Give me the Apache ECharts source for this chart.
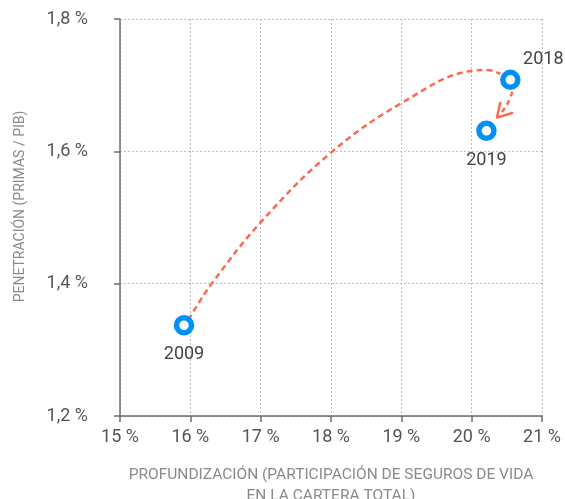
<!DOCTYPE html>
<html>
<head>
<meta charset="utf-8">
<script src="https://cdn.jsdelivr.net/npm/echarts@6/dist/echarts.min.js"></script>
<style>
  html, body { margin: 0; padding: 0; background: #fff; }
  #chart { width: 565px; height: 499px; }
</style>
</head>
<body>
<div id="chart"></div>
<script>
// Life-insurance depth (x, %) vs. penetration (y, premiums / GDP, %)
const years = ['2009', '2018', '2019'];
const depth = [15.91, 20.55, 20.21];
const penetration = [1.337, 1.708, 1.631];

// Dashed trend path from 2009 up to 2018 (x, y in axis units)
const pathX = [15.97, 16.02, 16.31, 17.02, 18.00, 19.02, 20.02, 20.22, 20.41];
const pathY = [1.345, 1.354, 1.401, 1.495, 1.598, 1.674, 1.722, 1.723, 1.717];

// Short dashed return from 2018 to 2019, with an open arrowhead
const backX = [20.58, 20.50, 20.38];
const backY = [1.690, 1.670, 1.653];
const headX = [20.405, 20.36, 20.575];
const headY = [1.673, 1.651, 1.658];

const xTicks = { min: 15, max: 21, step: 1 };
const yTicks = { min: 1.2, max: 1.8, step: 0.2 };

const accent = '#fb6a4c';
const ring = '#0091f6';
const fontFamily = 'Roboto, "DejaVu Sans", sans-serif';

const zip = (xs, ys) => xs.map((x, i) => [x, ys[i]]);
const fmt = (v, digits) => v.toFixed(digits).replace('.', ',') + ' %';

const chart = echarts.init(document.getElementById('chart'), null, { renderer: 'canvas' });

chart.setOption({
  animation: false,
  backgroundColor: '#fff',
  grid: { left: 120, right: 23, top: 19, bottom: 83, containLabel: false, outerBoundsMode: 'none' },
  xAxis: {
    type: 'value',
    min: xTicks.min, max: xTicks.max, interval: xTicks.step,
    name: 'PROFUNDIZACIÓN (PARTICIPACIÓN DE SEGUROS DE VIDA\nEN LA CARTERA TOTAL)',
    nameLocation: 'middle',
    nameGap: 49,
    nameTextStyle: { color: '#8a8a8a', fontSize: 15.5, fontFamily, lineHeight: 21, verticalAlign: 'top' },
    axisLine: { show: true, onZero: false, lineStyle: { color: '#6e6e6e', width: 1.5 } },
    axisTick: { show: true, length: 6, lineStyle: { color: '#6e6e6e', width: 1.5 } },
    axisLabel: { color: '#555', fontSize: 18, fontFamily, margin: 12,
      formatter: v => fmt(v, 0) },
    splitLine: { show: true, lineStyle: { color: '#bdbdbd', type: [2, 2], width: 1 } }
  },
  yAxis: {
    type: 'value',
    min: yTicks.min, max: yTicks.max, interval: yTicks.step,
    name: 'PENETRACIÓN (PRIMAS / PIB)',
    nameLocation: 'middle',
    nameGap: 93,
    nameRotate: 90,
    nameTextStyle: { color: '#8a8a8a', fontSize: 14, fontFamily, padding: [0, 0, 0, 22] },
    axisLine: { show: true, onZero: false, lineStyle: { color: '#6e6e6e', width: 1.5 } },
    axisTick: { show: true, length: 6, lineStyle: { color: '#6e6e6e', width: 1.5 } },
    axisLabel: { color: '#555', fontSize: 18, fontFamily, margin: 32,
      formatter: v => fmt(v, 1) },
    splitLine: { show: true, lineStyle: { color: '#bdbdbd', type: [2, 2], width: 1 } }
  },
  series: [
    {
      type: 'line',
      data: zip(pathX, pathY),
      smooth: 0.4,
      showSymbol: false,
      silent: true,
      z: 2,
      lineStyle: { color: accent, width: 2.5, type: [6, 4] }
    },
    {
      type: 'line',
      data: zip(backX, backY),
      smooth: 0.3,
      showSymbol: false,
      silent: true,
      z: 2,
      lineStyle: { color: accent, width: 2.5, type: [5, 4] }
    },
    {
      type: 'line',
      data: zip(headX, headY),
      showSymbol: false,
      silent: true,
      z: 2,
      lineStyle: { color: accent, width: 2.5, cap: 'round', join: 'round' }
    },
    {
      type: 'scatter',
      data: years.map((y, i) => ({
        value: [depth[i], penetration[i]],
        name: y,
        label: i === 1
          ? { position: 'top', distance: 3, offset: [33, 2] }
          : { position: 'bottom', distance: 10 }
      })),
      symbol: 'circle',
      symbolSize: 15,
      z: 5,
      itemStyle: { color: '#fff', borderColor: ring, borderWidth: 5.5, opacity: 1 },
      label: {
        show: true,
        formatter: p => p.name,
        color: '#444',
        fontSize: 18,
        fontFamily
      }
    }
  ]
});
</script>
</body>
</html>
